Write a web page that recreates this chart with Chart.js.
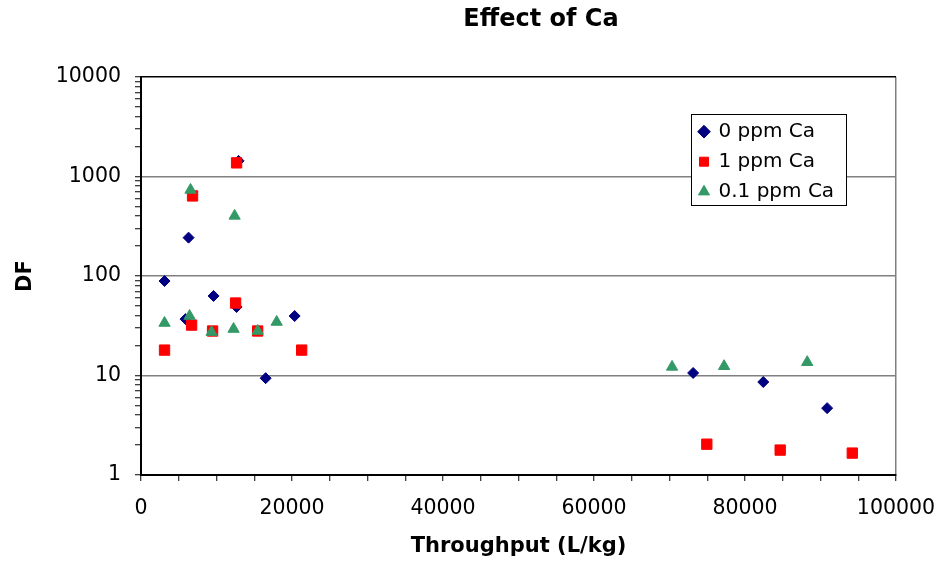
<!DOCTYPE html>
<html>
<head>
<meta charset="utf-8">
<script src="https://cdn.jsdelivr.net/npm/chart.js@4.4.0/dist/chart.umd.min.js"></script>
<style>
html,body{margin:0;padding:0;background:#fff;}
#wrap{width:939px;height:563px;}
</style>
</head>
<body>
<div id="wrap"><canvas id="c" width="939" height="563"></canvas></div>
<script>
// ---- data ----
const chartTitle = 'Effect of Ca';
const xTitle = 'Throughput (L/kg)';
const yTitle = 'DF';
const seriesNames = ['0 ppm Ca', '1 ppm Ca', '0.1 ppm Ca'];

const ca0X = [3116, 6300, 12930, 5900, 9610, 12660, 20350, 16510, 73130, 82420, 90880];
const ca0Y = [89, 243, 1435, 36.9, 63, 48.8, 39.6, 9.4, 10.6, 8.6, 4.7];

const ca1X = [3116, 6700, 6830, 9480, 12660, 12530, 15450, 21280, 74940, 84660, 94210];
const ca1Y = [18.0, 32.1, 638, 28.0, 1371, 53.5, 28.0, 18.0, 2.04, 1.78, 1.66];

const ca01X = [3116, 6560, 12400, 6430, 9350, 12260, 15450, 17970, 70340, 77230, 88240];
const ca01Y = [33.7, 733, 402, 39.6, 27.3, 29.3, 28.0, 34.5, 12.2, 12.4, 13.6];

const xLabelTicks = [0, 20000, 40000, 60000, 80000, 100000];
const yMajorTicks = [1, 10, 100, 1000, 10000];
const yTickValues = [1, 2, 3, 4, 5, 6, 7, 8, 9,
  10, 20, 30, 40, 50, 60, 70, 80, 90,
  100, 200, 300, 400, 500, 600, 700, 800, 900,
  1000, 2000, 3000, 4000, 5000, 6000, 7000, 8000, 9000,
  10000];

const toPoints = (xs, ys) => xs.map((x, i) => ({x: x, y: ys[i]}));

Chart.defaults.font.family = "'DejaVu Sans', sans-serif";
Chart.defaults.color = '#000';

const placement = {
  id: 'placement',
  afterLayout(chart) {
    const t = chart.titleBlock;
    if (t) { t.left = 441; t.right = 641; }
    const lg = chart.legend;
    if (lg) {
      lg.left = 689.5; lg.top = 111.7; lg.right = 847; lg.bottom = 230;
      lg.width = lg.right - lg.left; lg.height = lg.bottom - lg.top;
      if (!lg._framed) {
        const orig = lg.draw;
        lg.draw = function (...args) {
          const ctx = chart.ctx;
          ctx.save();
          ctx.fillStyle = '#fff';
          ctx.fillRect(691, 114, 156, 92);
          ctx.strokeStyle = '#000';
          ctx.lineWidth = 1;
          ctx.strokeRect(691.5, 114.5, 155, 91);
          ctx.restore();
          return orig.apply(this, args);
        };
        lg._framed = true;
      }
    }
  }
};

new Chart(document.getElementById('c'), {
  type: 'scatter',
  data: {
    datasets: [
      {label: seriesNames[0], data: toPoints(ca0X, ca0Y), pointStyle: 'rectRot', radius: 5.5, hoverRadius: 5.5,
       backgroundColor: '#000080', borderColor: '#000080', borderWidth: 1, order: 3},
      {label: seriesNames[1], data: toPoints(ca1X, ca1Y), pointStyle: 'rect', radius: 7.3, hoverRadius: 7.3,
       backgroundColor: '#FF0000', borderColor: '#FF0000', borderWidth: 1, order: 2},
      {label: seriesNames[2], data: toPoints(ca01X, ca01Y), pointStyle: 'triangle', radius: 6.5, hoverRadius: 6.5,
       backgroundColor: '#339966', borderColor: '#339966', borderWidth: 1, order: 1}
    ]
  },
  options: {
    responsive: false,
    animation: false,
    devicePixelRatio: 1,
    layout: {padding: {left: 0, right: 43, top: 0, bottom: 0}},
    plugins: {
      title: {
        display: true, text: chartTitle, color: '#000',
        font: {size: 24, weight: 'bold', lineHeight: 1.2},
        padding: {top: 5.6, bottom: 42.6}
      },
      legend: {
        display: true, position: 'chartArea', align: 'start',
        labels: {
          usePointStyle: true, boxWidth: 9, boxHeight: 9, padding: 10, color: '#000',
          font: {size: 20},
          sort: (a, b) => a.datasetIndex - b.datasetIndex
        }
      },
      tooltip: {enabled: false}
    },
    scales: {
      x: {
        type: 'linear', position: 'bottom', min: 0, max: 100000,
        afterFit: (s) => { s.height = 88; s.paddingRight = 0; s.paddingLeft = 0; },
        ticks: {
          stepSize: 5000, autoSkip: false, maxRotation: 0, padding: 15,
          font: {size: 20.5},
          callback: (v) => xLabelTicks.includes(v) ? String(v) : ''
        },
        grid: {
          drawOnChartArea: true, drawTicks: true, tickLength: 6,
          color: (ctx) => (ctx.tick && ctx.tick.value === 100000) ? '#808080' : 'rgba(0,0,0,0)',
          lineWidth: 1.5,
          tickColor: '#000', tickWidth: 1
        },
        border: {display: true, color: '#000', width: 2},
        title: {display: true, text: xTitle, font: {size: 21, weight: 'bold', lineHeight: 1.2}, padding: {top: 0, bottom: 3.5}}
      },
      y: {
        type: 'logarithmic', position: 'left', min: 1, max: 10000,
        afterFit: (s) => { s.width = 141; s.paddingTop = 0; s.paddingBottom = 0; },
        afterBuildTicks: (s) => { s.ticks = yTickValues.map(v => ({value: v, major: yMajorTicks.includes(v)})); },
        ticks: {
          autoSkip: false, padding: 14,
          font: {size: 20.5},
          callback: (v) => yMajorTicks.includes(v) ? String(v) : ''
        },
        grid: {
          drawOnChartArea: true, drawTicks: true, tickLength: 6,
          color: (ctx) => {
            const v = ctx.tick && ctx.tick.value;
            if (v === 10000) return '#000';
            if (v === 10 || v === 100 || v === 1000) return '#808080';
            return 'rgba(0,0,0,0)';
          },
          lineWidth: 1.5,
          tickColor: '#000', tickWidth: 1
        },
        border: {display: true, color: '#000', width: 2},
        title: {display: true, text: yTitle, font: {size: 21, weight: 'bold', lineHeight: 1.2}, padding: {top: 12.5, bottom: 0}}
      }
    }
  },
  plugins: [placement]
});
</script>
</body>
</html>
